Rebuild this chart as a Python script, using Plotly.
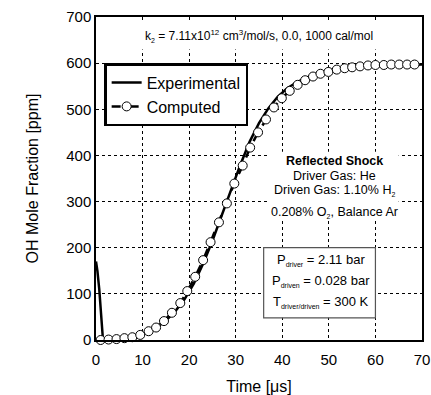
import plotly.graph_objects as go

# Measured OH time history (time in microseconds, OH in ppm)
exp_time = [0, 0.3, 0.7, 1.0, 1.3, 1.5, 3, 5, 7, 9, 11, 13, 15, 17, 19, 21, 23, 25,
            27, 29, 31, 33, 35, 37, 39, 41, 43, 45, 48, 51, 55, 60, 65, 70]
exp_oh = [170, 150, 110, 60, 20, 0, 0, 2, 5, 9, 16, 27, 42, 62, 88, 122, 165, 215,
          270, 325, 380, 430, 470, 502, 527, 545, 558, 568, 579, 586, 592, 595, 596, 597]

# Model prediction
calc_time = [1.0, 2.7, 4.4, 6.1, 7.8, 9.5, 11.3, 12.9, 14.6, 16.3, 18.1, 19.6, 21.3,
             23.0, 24.6, 26.4, 28.1, 29.7, 31.5, 33.1, 34.8, 36.5, 38.2, 39.9, 41.6,
             43.3, 44.9, 46.6, 48.2, 49.9, 51.7, 53.4, 55.0, 56.7, 58.4, 60.0, 61.8,
             63.4, 65.1, 66.8, 68.4]
calc_oh = [0, 1, 2, 4, 6, 11, 19, 27, 41, 59, 80, 106, 137, 173, 212, 255, 296, 339,
           378, 417, 450, 478, 504, 524, 540, 553, 563, 571, 577, 581, 586, 589, 591,
           593, 595, 596, 596, 597, 597, 597, 597]

x_ticks = [0, 10, 20, 30, 40, 50, 60, 70]
y_ticks = [0, 100, 200, 300, 400, 500, 600, 700]

FONT = "Arial, Liberation Sans, sans-serif"

fig = go.Figure()
fig.add_trace(go.Scatter(
    x=exp_time, y=exp_oh, mode="lines", name="Experimental",
    line=dict(color="black", width=2.5), cliponaxis=False,
))
fig.add_trace(go.Scatter(
    x=calc_time, y=calc_oh, mode="lines+markers", name="Computed",
    line=dict(color="black", width=2.5, dash="dash"),
    marker=dict(symbol="circle", size=9, color="white",
                line=dict(color="black", width=1)),
    cliponaxis=False,
))

axis_common = dict(
    showline=True, linecolor="black", linewidth=1.5, mirror=True,
    showgrid=True, gridcolor="black", gridwidth=1, griddash="dot",
    zeroline=False, ticks="", automargin=False,
    tickfont=dict(family=FONT, size=15, color="black"),
)

fig.update_layout(
    width=431, height=395,
    margin=dict(l=96, r=9, t=17, b=55),
    paper_bgcolor="white", plot_bgcolor="white",
    font=dict(family=FONT, color="black"),
    xaxis=dict(range=[0, 70], tickvals=x_ticks, ticklabelstandoff=5,
               title=dict(text="Time [\u03bcs]", font=dict(size=16), standoff=15),
               **axis_common),
    yaxis=dict(range=[0, 700], tickvals=y_ticks,
               title=dict(text="OH Mole Fraction [ppm]", font=dict(size=16), standoff=24),
               **axis_common),
    legend=dict(x=0.025, y=0.857, xanchor="left", yanchor="top",
                bgcolor="white", bordercolor="black", borderwidth=2.5,
                font=dict(family=FONT, size=16, color="black"),
                itemwidth=30, tracegroupgap=0),
    showlegend=True,
)

# White panels behind the text blocks
fig.add_shape(type="rect", xref="x", yref="y", x0=37, x1=65, y0=260, y1=408,
              fillcolor="white", line=dict(width=0), layer="above")
fig.add_shape(type="rect", xref="x", yref="y", x0=36, x1=60, y0=48, y1=200,
              fillcolor="white", line=dict(color="#555555", width=1.2), layer="above")

sub = lambda s: '<sub><span style="font-size:7px">%s</span></sub>' % s
sup = lambda s: '<sup><span style="font-size:8px">%s</span></sup>' % s

fig.add_annotation(
    x=35, y=658, xref="x", yref="y", showarrow=False,
    text="k" + sub("2") + " = 7.11x10" + sup("12") + " cm" + sup("3")
         + "/mol/s, 0.0, 1000 cal/mol",
    font=dict(family=FONT, size=12, color="black"),
    bgcolor="white", borderpad=5,
)

shock_lines = [
    ("<b>Reflected Shock</b>", 387),
    ("Driver Gas: He", 356),
    ("Driven Gas: 1.10% H" + sub("2"), 323),
    ("0.208% O" + sub("2") + ", Balance Ar", 277),
]
for txt, yv in shock_lines:
    fig.add_annotation(x=51.3, y=yv, xref="x", yref="y", showarrow=False, text=txt,
                       font=dict(family=FONT, size=12.5, color="black"))

cond_lines = [
    ("P" + sub("driver") + " = 2.11 bar", 174),
    ("P" + sub("driven") + " = 0.028 bar", 128),
    ("T" + sub("driver/driven") + " = 300 K", 82),
]
for txt, yv in cond_lines:
    fig.add_annotation(x=48.4, y=yv, xref="x", yref="y", showarrow=False, text=txt,
                       font=dict(family=FONT, size=13, color="black"))

fig.write_html("out.html")
